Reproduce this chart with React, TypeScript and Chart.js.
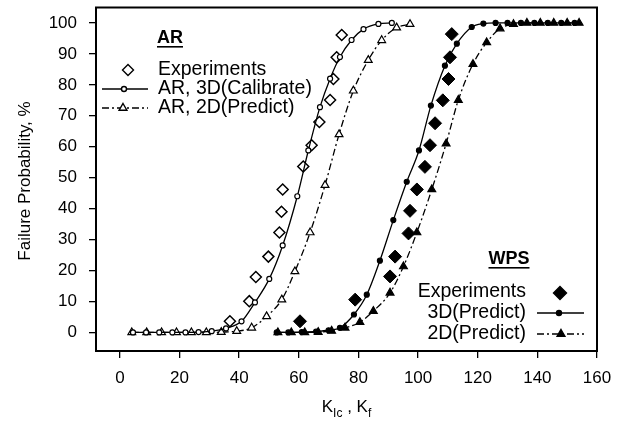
import React, { useEffect, useRef } from "react";
import { Chart, registerables } from "chart.js";

Chart.register(...registerables);

const FONT = "'Liberation Sans', Arial, Helvetica, sans-serif";

// ---- data ----
const xTicks = [0, 20, 40, 60, 80, 100, 120, 140, 160];
const yTicks = [0, 10, 20, 30, 40, 50, 60, 70, 80, 90, 100];

const arExpX = [36.9, 43.4, 45.6, 49.8, 53.5, 54.2, 54.6, 61.5, 64.3, 66.9, 70.5, 71.6, 72.7, 74.4];
const arExpY = [3.6, 10.1, 17.9, 24.5, 32.3, 39.0, 46.2, 53.6, 60.5, 68.0, 75.1, 81.9, 88.9, 96.1];

const ar3dX = [4.4, 8.8, 13.2, 17.6, 22.0, 26.4, 30.8, 35.6, 40.8, 45.3, 50.1, 54.6, 59.5, 63.2, 67.1, 70.5, 73.8, 77.7, 81.7, 86.7, 91.2];
const ar3dY = [0, 0, 0, 0, 0, 0.1, 0.4, 1.3, 3.6, 9.7, 17.3, 28.1, 44.0, 58.8, 72.8, 82.0, 89.0, 94.5, 98.0, 99.7, 100];

const ar2dX = [4.0, 9.0, 14.0, 19.0, 24.0, 29.0, 34.0, 39.2, 44.2, 49.2, 54.3, 58.7, 63.8, 68.8, 73.5, 78.3, 83.3, 87.8, 92.8, 97.3];
const ar2dY = [0, 0, 0, 0, 0, 0, 0.1, 0.4, 1.5, 5.2, 10.6, 19.7, 32.3, 47.6, 64.0, 78.1, 88.0, 94.4, 98.5, 99.6];

const wpsExpX = [60.4, 78.9, 90.6, 92.3, 96.8, 97.3, 99.6, 102.3, 104.0, 105.7, 108.3, 110.2, 110.7, 111.3];
const wpsExpY = [3.6, 10.6, 18.1, 24.5, 32.0, 39.3, 46.2, 53.5, 60.5, 67.6, 75.0, 81.9, 88.9, 96.4];

const wps3dX = [52.6, 56.5, 61.0, 65.8, 70.0, 73.8, 78.5, 82.8, 87.2, 91.7, 96.2, 100.3, 104.3, 109.0, 113.0, 118.0, 121.9, 126.0, 130.0, 134.5, 139.0, 143.5, 148.0, 152.5];
const wps3dY = [0, 0, 0.1, 0.3, 0.7, 1.5, 5.8, 12.2, 23.2, 36.3, 48.7, 58.8, 73.3, 86.2, 93.3, 98.7, 99.8, 100, 100, 100, 100, 100, 100, 100];

const wps2dX = [53.0, 57.5, 62.0, 66.5, 71.0, 75.5, 80.5, 85.0, 90.6, 95.1, 99.6, 104.6, 109.4, 113.5, 118.4, 123.0, 127.5, 132.0, 136.5, 141.0, 145.5, 150.0, 154.0];
const wps2dY = [0, 0, 0, 0.1, 0.5, 1.5, 3.3, 6.9, 12.8, 21.3, 32.3, 46.2, 61.0, 75.1, 86.7, 93.7, 98.2, 99.6, 100, 100, 100, 100, 100];

const yTitle = "Failure Probability, %";
const arHeading = "AR";
const arLabels = ["Experiments", "AR, 3D(Calibrate)", "AR, 2D(Predict)"];
const wpsHeading = "WPS";
const wpsLabels = ["Experiments", "3D(Predict)", "2D(Predict)"];

const pts = (xs: number[], ys: number[]) => xs.map((x, i) => ({ x, y: ys[i] }));

const DASH = [7, 3, 2, 3];

function marker(ctx: CanvasRenderingContext2D, kind: string, x: number, y: number, r: number, filled: boolean) {
  ctx.save();
  ctx.setLineDash([]);
  ctx.beginPath();
  if (kind === "diamond") {
    ctx.moveTo(x, y - r);
    ctx.lineTo(x + r, y);
    ctx.lineTo(x, y + r);
    ctx.lineTo(x - r, y);
    ctx.closePath();
  } else if (kind === "circle") {
    ctx.arc(x, y, r, 0, Math.PI * 2);
  } else {
    ctx.moveTo(x, y - r);
    ctx.lineTo(x + r * 0.866, y + r * 0.5);
    ctx.lineTo(x - r * 0.866, y + r * 0.5);
    ctx.closePath();
  }
  ctx.fillStyle = filled ? "#000" : "#fff";
  ctx.fill();
  ctx.lineWidth = 1.4;
  ctx.strokeStyle = "#000";
  ctx.stroke();
  ctx.restore();
}

function sampleLine(ctx: CanvasRenderingContext2D, x1: number, x2: number, y: number, dashed: boolean) {
  ctx.save();
  ctx.strokeStyle = "#000";
  ctx.lineWidth = 1.4;
  ctx.setLineDash(dashed ? DASH : []);
  ctx.beginPath();
  ctx.moveTo(x1, y);
  ctx.lineTo(x2, y);
  ctx.stroke();
  ctx.restore();
}

const overlay = {
  id: "overlay",
  afterDraw(chart: any) {
    const ctx: CanvasRenderingContext2D = chart.ctx;
    const a = chart.chartArea;
    ctx.save();
    // frame
    ctx.strokeStyle = "#000";
    ctx.lineWidth = 2;
    ctx.strokeRect(a.left, a.top, a.right - a.left, a.bottom - a.top);

    ctx.fillStyle = "#000";
    // y title
    ctx.save();
    ctx.font = `17px ${FONT}`;
    ctx.translate(25, 181);
    ctx.rotate(-Math.PI / 2);
    ctx.textAlign = "center";
    ctx.textBaseline = "middle";
    ctx.fillText(yTitle, 0, 0);
    ctx.restore();

    // x title: K_Ic , K_f
    const big = `17px ${FONT}`;
    const small = `12px ${FONT}`;
    const parts: [string, string][] = [["K", big], ["Ic", small], [" , K", big], ["f", small]];
    let total = 0;
    for (const [t, f] of parts) { ctx.font = f; total += ctx.measureText(t).width; }
    let cx = (a.left + a.right) / 2 - total / 2;
    const by = 412;
    ctx.textAlign = "left";
    ctx.textBaseline = "alphabetic";
    for (const [t, f] of parts) {
      ctx.font = f;
      ctx.fillText(t, cx, f === small ? by + 5 : by);
      cx += ctx.measureText(t).width;
    }

    // AR legend
    ctx.font = `bold 18px ${FONT}`;
    ctx.textBaseline = "middle";
    ctx.textAlign = "left";
    ctx.fillText(arHeading, 157, 38);
    let w = ctx.measureText(arHeading).width;
    ctx.fillRect(157, 46, w, 1.6);
    ctx.font = `19.5px ${FONT}`;
    ctx.fillText(arLabels[0], 158, 70);
    ctx.fillText(arLabels[1], 158, 89);
    ctx.fillText(arLabels[2], 158, 108);
    marker(ctx, "diamond", 128, 70, 5.5, false);
    sampleLine(ctx, 102, 148, 89, false);
    marker(ctx, "circle", 124, 89, 2.5, false);
    sampleLine(ctx, 102, 148, 108, true);
    marker(ctx, "triangle", 123, 108, 4.5, false);

    // WPS legend
    ctx.font = `bold 18px ${FONT}`;
    ctx.textAlign = "center";
    ctx.fillText(wpsHeading, 509, 259);
    w = ctx.measureText(wpsHeading).width;
    ctx.fillRect(509 - w / 2, 267, w, 1.6);
    ctx.font = `19.5px ${FONT}`;
    ctx.textAlign = "right";
    ctx.fillText(wpsLabels[0], 526, 292);
    ctx.fillText(wpsLabels[1], 526, 313);
    ctx.fillText(wpsLabels[2], 526, 334);
    marker(ctx, "diamond", 560, 293, 6.5, true);
    sampleLine(ctx, 537, 584, 313, false);
    marker(ctx, "circle", 559, 313, 2.5, true);
    sampleLine(ctx, 537, 584, 334, true);
    marker(ctx, "triangle", 561, 334, 4.5, true);

    ctx.restore();
  },
};

export default function App() {
  const ref = useRef<HTMLCanvasElement | null>(null);

  useEffect(() => {
    if (!ref.current) return;
    const line = (data: any, dashed: boolean, style: string, r: number, filled: boolean) => ({
      data,
      showLine: true,
      borderColor: "#000",
      borderWidth: 1.3,
      borderDash: dashed ? DASH : [],
      cubicInterpolationMode: "monotone",
      pointStyle: style,
      pointRadius: r,
      pointBackgroundColor: filled ? "#000" : "#fff",
      pointBorderColor: "#000",
      pointBorderWidth: 1.2,
    });
    const chart = new Chart(ref.current, {
      type: "scatter",
      data: {
        datasets: [
          line(pts(ar3dX, ar3dY), false, "circle", 2.5, false),
          line(pts(ar2dX, ar2dY), true, "triangle", 4.5, false),
          line(pts(wps3dX, wps3dY), false, "circle", 2.5, true),
          line(pts(wps2dX, wps2dY), true, "triangle", 4.5, true),
          {
            data: pts(arExpX, arExpY),
            showLine: false,
            pointStyle: "rectRot",
            pointRadius: 5.5,
            pointBackgroundColor: "#fff",
            pointBorderColor: "#000",
            pointBorderWidth: 1.5,
          },
          {
            data: pts(wpsExpX, wpsExpY),
            showLine: false,
            pointStyle: "rectRot",
            pointRadius: 6.5,
            pointBackgroundColor: "#000",
            pointBorderColor: "#000",
            pointBorderWidth: 1,
          },
        ] as any,
      },
      options: {
        animation: false,
        responsive: false,
        layout: { padding: { top: 6, right: 29, left: 0, bottom: 0 } },
        plugins: { legend: { display: false }, tooltip: { enabled: false } },
        scales: {
          x: {
            type: "linear",
            min: -8,
            max: 160,
            afterBuildTicks: (s: any) => { s.ticks = xTicks.map((v) => ({ value: v })); },
            afterFit: (s: any) => { s.height = 78; s.paddingLeft = 0; s.paddingRight = 0; },
            ticks: { color: "#000", font: { family: FONT, size: 17 }, padding: 10, maxRotation: 0, autoSkip: false },
            grid: { drawOnChartArea: false, drawTicks: true, tickLength: 7, color: "#000", lineWidth: 1.3 },
            border: { display: true, color: "#000", width: 2 },
          },
          y: {
            type: "linear",
            min: -6,
            max: 105,
            afterBuildTicks: (s: any) => { s.ticks = yTicks.map((v) => ({ value: v })); },
            afterFit: (s: any) => { s.width = 96; s.paddingTop = 0; s.paddingBottom = 0; },
            ticks: { color: "#000", font: { family: FONT, size: 17 }, padding: 12, autoSkip: false },
            grid: { drawOnChartArea: false, drawTicks: true, tickLength: 7, color: "#000", lineWidth: 1.3 },
            border: { display: true, color: "#000", width: 2 },
          },
        },
      } as any,
      plugins: [overlay],
    });
    return () => chart.destroy();
  }, []);

  return (
    <div style={{ position: "absolute", left: 0, top: 0, width: 626, height: 429, background: "#fff" }}>
      <canvas ref={ref} width={626} height={429} style={{ display: "block" }} />
    </div>
  );
}
